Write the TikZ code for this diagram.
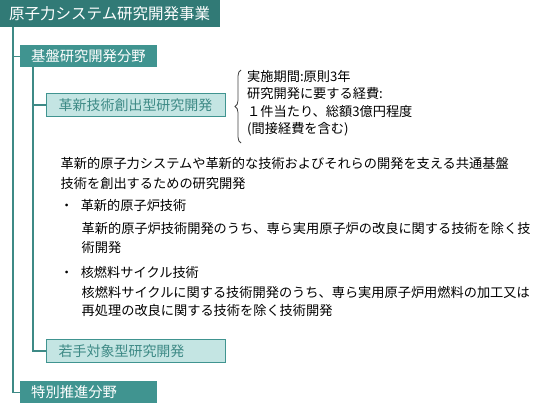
\documentclass[tikz,border=0pt]{standalone}
\usepackage{fontspec}
\setmainfont{Noto Sans CJK JP}
\usetikzlibrary{decorations.pathreplacing}
\definecolor{tealdark}{HTML}{317A76}
\definecolor{tealmid}{HTML}{409490}
\definecolor{teallight}{HTML}{C4E5E3}
\definecolor{tealline}{HTML}{3E8A86}

\begin{document}
\begin{tikzpicture}[x=1pt,y=-1pt,
    every node/.style={font=\fontsize{13.2}{15}\selectfont, inner sep=0pt, anchor=base west},
    topbox/.style={fill=tealdark, text=white, anchor=north west, minimum height=26.5pt,
        inner xsep=9pt, font=\fontsize{15.5}{17}\selectfont},
    fieldbox/.style={fill=tealmid, text=white, anchor=north west, minimum height=22pt,
        inner xsep=11pt, text width=115pt, font=\fontsize{14.3}{16}\selectfont},
    progbox/.style={draw=tealmid, line width=1pt, fill=teallight, text=tealline, anchor=north west,
        minimum height=23pt, inner xsep=12pt, text width=155pt, font=\fontsize{14}{16}\selectfont},
    link/.style={draw=tealline, line width=1.2pt}]
    \useasboundingbox (0,0) rectangle (560,415);
    % boxes
    \node[topbox, text width=202pt] (jigyo) at (0,0) {原子力システム研究開発事業};
    \node[fieldbox] (kiban) at (20,45) {基盤研究開発分野};
    \node[progbox] (kakushin) at (46,93) {革新技術創出型研究開発};
    \node[progbox] (wakate) at (46,339) {若手対象型研究開発};
    \node[fieldbox] (tokubetsu) at (20,381) {特別推進分野};
    % tree lines
    \coordinate (trunk) at ([xshift=13pt]jigyo.south west);
    \coordinate (branch) at ([xshift=13pt]kiban.south west);
    \draw[link] (trunk) |- (tokubetsu.west);
    \draw[link] (trunk |- kiban.west) -- (kiban.west);
    \draw[link] (branch) |- (wakate.west);
    \draw[link] (branch |- kakushin.west) -- (kakushin.west);
    % conditions
    \coordinate (bracebot) at (241,143);
    \coordinate (bracetop) at (241,70);
    \draw[black!75, line width=0.8pt, decorate, decoration={brace, amplitude=6pt}] (bracebot) -- (bracetop);
    \node (spec1) at (247,81) {実施期間:原則3年};
    \node (spec2) at (247,98.5) {研究開発に要する経費:};
    \node (spec3) at (247,116) {１件当たり、総額3億円程度};
    \node (spec4) at (247,133.5) {(間接経費を含む)};
    % description
    \node (desc1) at (60.5,168) {革新的原子力システムや革新的な技術およびそれらの開発を支える共通基盤};
    \node (desc2) at (60.5,188) {技術を創出するための研究開発};
    \node (item1) at (60,210.5) {・\kern7.4pt 革新的原子炉技術};
    \node (item1a) at (81.5,233) {革新的原子炉技術開発のうち、専ら実用原子炉の改良に関する技術を除く技};
    \node (item1b) at (81.5,252) {術開発};
    \node (item2) at (60,277) {・\kern7.4pt 核燃料サイクル技術};
    \node (item2a) at (81.5,297) {核燃料サイクルに関する技術開発のうち、専ら実用原子炉用燃料の加工又は};
    \node (item2b) at (81.5,315) {再処理の改良に関する技術を除く技術開発};
\end{tikzpicture}
\end{document}
